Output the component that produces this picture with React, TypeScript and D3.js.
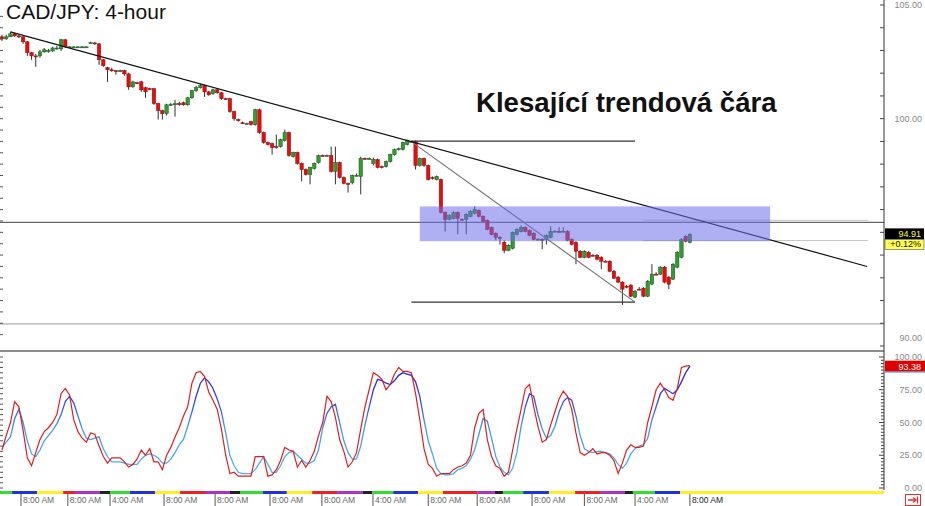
import React from "react";
import * as d3 from "d3";

// ---------- DATA ----------
const opens = [
103.60,103.51,103.60,103.73,103.64,103.60,103.38,102.90,102.76,102.76,
102.94,102.98,102.98,103.11,103.07,103.47,103.16,103.16,103.16,103.16,
103.16,103.33,103.33,103.29,102.59,102.24,102.15,102.11,102.11,102.11,
101.97,101.40,101.58,101.62,101.36,101.32,101.32,100.66,100.35,100.22,
100.61,100.61,100.66,100.70,100.61,100.92,101.23,101.36,101.45,101.18,
101.10,101.27,101.14,100.88,100.88,100.31,99.96,99.82,99.78,99.87,
99.74,100.39,99.39,98.95,98.90,98.77,98.77,99.04,99.39,98.33,
98.51,98.03,97.76,97.54,97.81,98.07,98.38,98.37,98.38,97.68,
98.07,97.41,97.15,97.19,97.50,97.46,98.25,98.24,98.03,98.20,
97.89,97.89,98.11,98.42,98.64,98.64,98.86,98.99,98.99,97.94,
98.25,97.94,97.41,97.32,97.32,95.88,95.57,95.61,95.88,95.57,
95.57,95.70,95.83,95.97,95.70,95.53,95.22,94.96,94.78,94.56,
94.21,94.30,94.91,95.04,95.22,95.09,94.96,94.69,94.69,94.69,
94.78,95.04,95.04,95.04,95.04,94.69,94.56,94.17,93.90,94.12,
93.99,93.99,93.90,93.73,93.73,93.29,93.03,92.81,92.63,92.68,
92.15,92.50,92.54,92.19,92.72,93.16,93.16,93.47,93.03,92.94,
93.47,93.90,94.83,94.56
];
const highs = [
103.69,103.69,103.82,103.77,103.69,103.64,103.42,102.94,102.85,103.03,
103.11,103.07,103.16,103.20,103.51,103.51,103.18,103.18,103.18,103.18,
103.18,103.38,103.38,103.33,102.63,102.28,102.24,102.15,102.15,102.15,
102.02,101.67,101.62,101.67,101.40,101.36,101.36,100.70,100.39,100.66,
100.70,100.83,100.75,100.75,100.96,101.27,101.45,101.54,101.49,101.23,
101.32,101.32,101.18,100.92,100.92,100.35,100.00,99.87,99.82,99.91,
100.44,100.44,99.43,98.99,98.95,99.30,99.12,99.52,99.43,98.55,
98.55,98.07,97.81,97.89,98.07,98.42,98.42,98.42,98.77,98.77,
98.11,97.46,97.19,97.54,97.59,98.33,98.29,98.29,98.29,98.25,
97.94,98.16,98.46,98.68,98.73,98.99,99.08,99.04,99.04,98.29,
98.29,97.98,97.46,97.50,97.37,95.92,95.79,95.92,95.92,95.61,
95.83,95.97,96.14,96.01,95.75,95.57,95.26,95.00,94.83,94.65,
94.47,95.04,95.18,95.31,95.26,95.13,95.00,94.74,94.74,94.91,
95.26,95.09,95.22,95.22,95.09,94.74,94.61,94.21,94.21,94.17,
94.04,94.04,93.95,93.77,93.77,93.34,93.07,92.85,92.68,92.72,
92.46,92.59,92.59,92.90,93.60,93.25,93.51,93.51,93.07,93.64,
94.17,94.74,94.87,94.96
];
const lows = [
103.42,103.47,103.60,103.60,103.55,103.29,102.76,102.59,102.28,102.68,
102.90,102.90,102.94,103.03,102.98,103.11,103.14,103.14,103.14,103.14,
103.14,103.29,103.25,102.37,102.28,101.62,102.06,101.93,102.06,101.89,
101.27,101.36,101.54,101.18,100.92,101.27,100.61,99.96,99.96,100.13,
100.57,100.09,100.57,100.57,100.57,100.88,101.18,101.32,100.96,101.01,
101.05,101.10,100.83,100.83,100.26,99.91,99.87,99.78,99.74,99.69,
99.69,99.34,98.90,98.82,98.42,98.68,98.73,98.99,98.33,98.29,
97.98,97.24,97.50,97.11,97.76,98.03,98.33,98.33,97.63,97.11,
97.37,97.11,96.75,97.11,97.46,96.67,98.20,98.20,97.94,97.81,
97.81,97.85,98.07,98.38,98.60,98.60,98.82,98.95,97.76,97.89,
97.89,97.28,97.32,97.28,95.83,95.04,95.53,95.57,94.91,95.53,
94.91,95.66,95.79,95.66,95.44,95.09,94.87,94.65,94.47,94.08,
94.17,94.25,94.87,95.00,95.00,94.83,94.65,94.65,94.25,94.47,
94.74,95.00,95.00,95.00,94.61,94.43,93.60,93.86,93.86,93.86,
93.95,93.77,93.38,93.69,93.25,92.94,92.76,91.80,92.54,92.15,
92.11,92.46,92.15,92.15,92.68,93.12,93.12,92.76,92.50,92.90,
93.42,93.86,94.56,94.52
];
const closes = [
103.51,103.60,103.73,103.64,103.60,103.38,102.90,102.76,102.72,102.94,
103.03,102.99,103.11,103.11,103.47,103.16,103.16,103.16,103.16,103.16,
103.16,103.34,103.29,102.59,102.33,102.15,102.14,102.10,102.11,101.97,
101.40,101.62,101.57,101.27,101.18,101.31,100.66,100.35,100.22,100.61,
100.62,100.66,100.65,100.61,100.92,101.23,101.36,101.45,101.18,101.05,
101.27,101.14,100.88,100.87,100.31,100.00,99.91,99.81,99.79,99.74,
100.39,99.39,98.95,98.86,98.73,98.76,99.08,99.39,98.38,98.51,
98.03,97.76,97.54,97.85,98.03,98.38,98.37,98.38,97.68,98.07,
97.41,97.15,97.14,97.50,97.51,98.25,98.24,98.25,98.20,97.85,
97.88,98.11,98.42,98.64,98.68,98.95,99.04,99.00,97.94,98.25,
97.94,97.32,97.40,97.46,95.88,95.57,95.75,95.88,95.61,95.56,
95.79,95.92,96.01,95.70,95.48,95.13,94.91,94.78,94.77,94.21,
94.43,95.00,95.13,95.22,95.04,94.87,94.69,94.70,94.68,94.87,
95.04,95.05,95.03,95.05,94.65,94.47,94.17,93.90,94.17,93.90,
93.98,93.82,93.73,93.72,93.29,92.98,92.81,92.50,92.62,92.19,
92.41,92.49,92.19,92.85,93.16,93.15,93.47,92.81,92.72,93.60,
94.12,94.69,94.61,94.91
];

const stochK = [
29,40,50,66,62,44,23,17,27,37,
43,46,50,56,72,76,71,52,43,38,
35,42,41,32,24,19,23,23,23,20,
16,18,22,29,25,30,20,20,14,25,
31,39,46,55,62,80,88,89,85,73,
67,60,45,25,11,12,9,9,9,9,
24,24,24,9,10,14,21,31,29,28,
16,21,16,21,28,40,50,70,66,54,
37,28,16,20,27,45,62,75,88,86,
83,75,79,87,92,89,89,88,72,52,
30,18,15,9,11,11,11,14,16,17,
19,25,46,57,60,37,24,17,15,9,
12,29,45,60,76,79,62,47,35,37,
48,58,68,74,70,60,42,27,25,27,
30,26,27,27,25,21,11,19,29,33,
31,31,32,50,62,75,80,75,69,67,
76,92,93,93.38
];
const stochD = [
31,35,39,53,60,50,36,26,24,29,
36,40,44,49,56,66,70,65,55,45,
38,37,38,39,30,24,20,20,20,19,
18,18,18,22,25,26,25,23,19,19,
22,27,33,37,47,58,70,80,84,81,
76,68,58,42,25,17,12,11,11,11,
14,19,24,18,12,12,17,24,27,28,
25,22,19,19,21,29,46,57,62,64,
50,36,27,22,22,32,48,62,75,83,
82,80,79,82,86,88,87,86,81,70,
52,36,26,15,11,10,10,11,14,15,
17,22,29,41,53,51,38,24,16,12,
10,15,27,47,62,72,70,56,45,38,
40,47,58,66,69,67,55,40,30,28,
27,28,28,27,26,23,18,15,19,26,
30,32,33,38,52,62,72,76,74,72,
75,81,88,93
];

// session colour bar (in candle-index units)
const sessionStarts = [-0.5,2.4,8.3,14.5,17.3,23.2,25.6,30.3,36.3,42.2,48.1,54,56.4,61.8,67.5,73.5,79.4,85.5,87.7,92.7,98.6,104.5,112.6,116.8,118.7,123.5,129.6,135.8,141.7,147.6,149.5,154.7,160.7];
const sessionEnd = 209;
const sessionColors = ["g","b","y","r","p","k","g","b","y","r","p","k","g","b","y","r","p","k","g","b","y","r","p","k","g","b","y","r","p","k","g","b","y"];
const sessionPalette: Record<string,string> = { g: "#33dd33", b: "#2233dd", y: "#ffee22", r: "#ee2222", p: "#aa33cc", k: "#222222" };

const timeTickIdx = [4.5,15.6,25.6,38.4,50.5,63.5,75.8,87.9,101,112.6,125.6,138,150,163];
const timeTickLabels = ["8:00 AM","8:00 AM","4:00 AM","8:00 AM","8:00 AM","8:00 AM","8:00 AM","4:00 AM","8:00 AM","8:00 AM","8:00 AM","8:00 AM","4:00 AM","8:00 AM"];

const priceLabels = [105, 100, 90];
const stochLabels = [100, 75, 50, 25, 0];

// drawn objects (index / price)
const trendStart = [2, 103.82];
const trendMid = [97, 98.99];
const trendEndIdx = 205;
const fanEnd = [150, 91.93];
const hLineTop = [97, 150, 99.01];
const hLineBottom = [97, 150, 91.93];
const zone = [99, 182, 96.14, 94.61];
const fullLines = [95.44, 90.97];
const fibLines = [95.53, 94.64];
const lastPrice = "94.91";
const lastChange = "+0.12%";
const lastStoch = "93.38";

export default function App() {
  const n = closes.length;
  const x = d3.scaleLinear().domain([0, n - 1]).range([2, 689.9]);
  const y = d3.scaleLinear().domain([90, 105]).range([346, 5]);
  const ys = d3.scaleLinear().domain([0, 100]).range([488, 357]);
  const bw = 3.4;
  const axisX = 884;

  const line = d3.line<number>().x((_, i) => x(i)).y((v) => ys(v));

  const trendEndP = trendStart[1] + (trendMid[1] - trendStart[1]) * (trendEndIdx - trendStart[0]) / (trendMid[0] - trendStart[0]);

  const mainTicks = d3.range(90, 105.01, 1);
  const leftTicks = d3.range(90.5, 105, 0.5);
  const stochRightTicks = d3.range(0, 100.01, 2.5);
  const stochLeftTicks = d3.range(0, 100.01, 4);

  const font = "Arial, 'Liberation Sans', sans-serif";

  return (
    <svg width={925} height={506} style={{ position: "absolute", left: 0, top: 0, background: "#fff" }} fontFamily={font}>
      <defs>
        <clipPath id="mainClip"><rect x={0} y={0} width={axisX} height={349} /></clipPath>
        <clipPath id="stochClip"><rect x={0} y={352} width={axisX} height={138} /></clipPath>
        <linearGradient id="blueGrad" gradientUnits="userSpaceOnUse" x1={0} y1={357} x2={0} y2={488}>
          <stop offset="0" stopColor="#1010e8" />
          <stop offset="0.3" stopColor="#2a40ee" />
          <stop offset="0.55" stopColor="#3c9cf0" />
          <stop offset="1" stopColor="#55b8f2" />
        </linearGradient>
      </defs>
      <rect x={0} y={0} width={925} height={506} fill="#fff" />

      {/* full width horizontal lines */}
      <g clipPath="url(#mainClip)">
        <line x1={0} x2={axisX} y1={y(fullLines[0])} y2={y(fullLines[0])} stroke="#666" strokeWidth={1.3} />
        <line x1={0} x2={axisX} y1={y(fullLines[1])} y2={y(fullLines[1])} stroke="#999" strokeWidth={1} />
        {fibLines.map((p, k) => (
          <line key={k} x1={x(152)} x2={868} y1={y(p)} y2={y(p)} stroke="#c8c8c8" strokeWidth={1} />
        ))}
      </g>

      {/* candles */}
      <g clipPath="url(#mainClip)">
        {closes.map((c, i) => {
          const o = opens[i];
          const up = c >= o;
          const top = y(Math.max(o, c));
          const h = Math.max(1, Math.abs(y(o) - y(c)));
          const cx = x(i);
          return (
            <g key={i}>
              <line x1={cx} x2={cx} y1={y(highs[i])} y2={y(lows[i])} stroke="#333" strokeWidth={1} />
              <rect x={cx - bw / 2} y={top} width={bw} height={h}
                fill={up ? "#2f9e2f" : "#ee0a0a"} stroke={up ? "#1d4d1d" : "#7a1010"} strokeWidth={0.5} />
            </g>
          );
        })}
      </g>

      {/* drawings */}
      <g clipPath="url(#mainClip)">
        <line x1={x(hLineTop[0])} x2={x(hLineTop[1])} y1={y(hLineTop[2])} y2={y(hLineTop[2])} stroke="#333" strokeWidth={1.2} />
        <line x1={x(hLineBottom[0])} x2={x(hLineBottom[1])} y1={y(hLineBottom[2])} y2={y(hLineBottom[2])} stroke="#333" strokeWidth={1.2} />
        <line x1={x(trendMid[0])} y1={y(trendMid[1])} x2={x(fanEnd[0])} y2={y(fanEnd[1])} stroke="#777" strokeWidth={1.2} />
        <line x1={x(trendStart[0])} y1={y(trendStart[1])} x2={x(trendEndIdx)} y2={y(trendEndP)} stroke="#111" strokeWidth={1.2} />
        <rect x={x(zone[0])} y={y(zone[2])} width={x(zone[1]) - x(zone[0])} height={y(zone[3]) - y(zone[2])}
          fill="rgb(110,110,235)" fillOpacity={0.55} />
      </g>

      {/* text */}
      <text x={6} y={19} fontSize={21} fill="#111">CAD/JPY: 4-hour</text>
      <text x={476} y={112} fontSize={27.6} fontWeight="bold" fill="#111">Klesající trendová čára</text>

      {/* left ticks */}
      {leftTicks.map((p, k) => (
        <line key={"l" + k} x1={0} x2={3} y1={y(p)} y2={y(p)} stroke="#555" strokeWidth={1} />
      ))}
      {stochLeftTicks.map((v, k) => (
        <line key={"sl" + k} x1={0} x2={3} y1={ys(v)} y2={ys(v)} stroke="#555" strokeWidth={1} />
      ))}

      {/* panel separator */}
      <line x1={0} x2={axisX} y1={351} y2={351} stroke="#666" strokeWidth={1.5} />

      {/* stochastic */}
      <g clipPath="url(#stochClip)">
        <path d={line(stochD) || ""} fill="none" stroke="url(#blueGrad)" strokeWidth={1.3} />
        <path d={line(stochK) || ""} fill="none" stroke="#e01e1e" strokeWidth={1.2} />
      </g>

      {/* right axis */}
      <line x1={axisX} x2={axisX} y1={0} y2={490} stroke="#333" strokeWidth={1} />
      {mainTicks.map((p, k) => (
        <line key={"t" + k} x1={axisX - 4} x2={axisX} y1={y(p)} y2={y(p)} stroke="#444" strokeWidth={1} />
      ))}
      {stochRightTicks.map((v, k) => (
        <line key={"st" + k} x1={axisX - (v % 25 === 0 ? 5 : 3)} x2={axisX} y1={ys(v)} y2={ys(v)} stroke="#444" strokeWidth={1} />
      ))}
      {priceLabels.map((p) => (
        <text key={"pl" + p} x={922} y={p === 90 ? 341 : y(p) + 3} fontSize={9} fill="#888" textAnchor="end">{p.toFixed(2)}</text>
      ))}
      {stochLabels.map((v) => (
        <text key={"sv" + v} x={922} y={ys(v) + 3} fontSize={9} fill="#888" textAnchor="end">{v.toFixed(2)}</text>
      ))}

      {/* last price boxes */}
      <rect x={885} y={y(+lastPrice) - 6} width={39} height={11} fill="#000" />
      <text x={921} y={y(+lastPrice) + 3} fontSize={9} fill="#ffff33" textAnchor="end">{lastPrice}</text>
      <rect x={885} y={y(+lastPrice) + 5} width={39} height={10} fill="#ffff55" stroke="#333" strokeWidth={0.5} />
      <text x={921} y={y(+lastPrice) + 13} fontSize={9} fill="#111" textAnchor="end">{lastChange}</text>

      <rect x={885} y={ys(+lastStoch) - 5} width={40} height={11} fill="#dd0000" />
      <text x={921} y={ys(+lastStoch) + 4} fontSize={9} fill="#fff" textAnchor="end">{lastStoch}</text>
      <line x1={885} x2={925} y1={ys(+lastStoch) + 6.5} y2={ys(+lastStoch) + 6.5} stroke="#4aa8ee" strokeWidth={1} />

      {/* session bar */}
      {sessionStarts.map((s, k) => {
        const e = k < sessionStarts.length - 1 ? sessionStarts[k + 1] : sessionEnd;
        return <rect key={"s" + k} x={Math.max(0, x(s))} y={491} width={x(e) - Math.max(0, x(s))} height={3} fill={sessionPalette[sessionColors[k]]} />;
      })}

      {/* time axis */}
      {timeTickIdx.map((t, k) => (
        <g key={"tt" + k}>
          <line x1={x(t)} x2={x(t)} y1={494} y2={506} stroke="#555" strokeWidth={1} />
          <text x={x(t) + 2} y={503} fontSize={8.5} fill={k === timeTickIdx.length - 1 ? "#222" : "#666"}>{timeTickLabels[k]}</text>
        </g>
      ))}

      {/* scroll button */}
      <rect x={905.5} y={494.5} width={15} height={11} fill="#fff" stroke="#e03030" strokeWidth={1} />
      <path d="M908 500 H916 M913 497.5 L916 500 L913 502.5 M917.5 496.5 V503.5" stroke="#e03030" strokeWidth={1.3} fill="none" />
    </svg>
  );
}
